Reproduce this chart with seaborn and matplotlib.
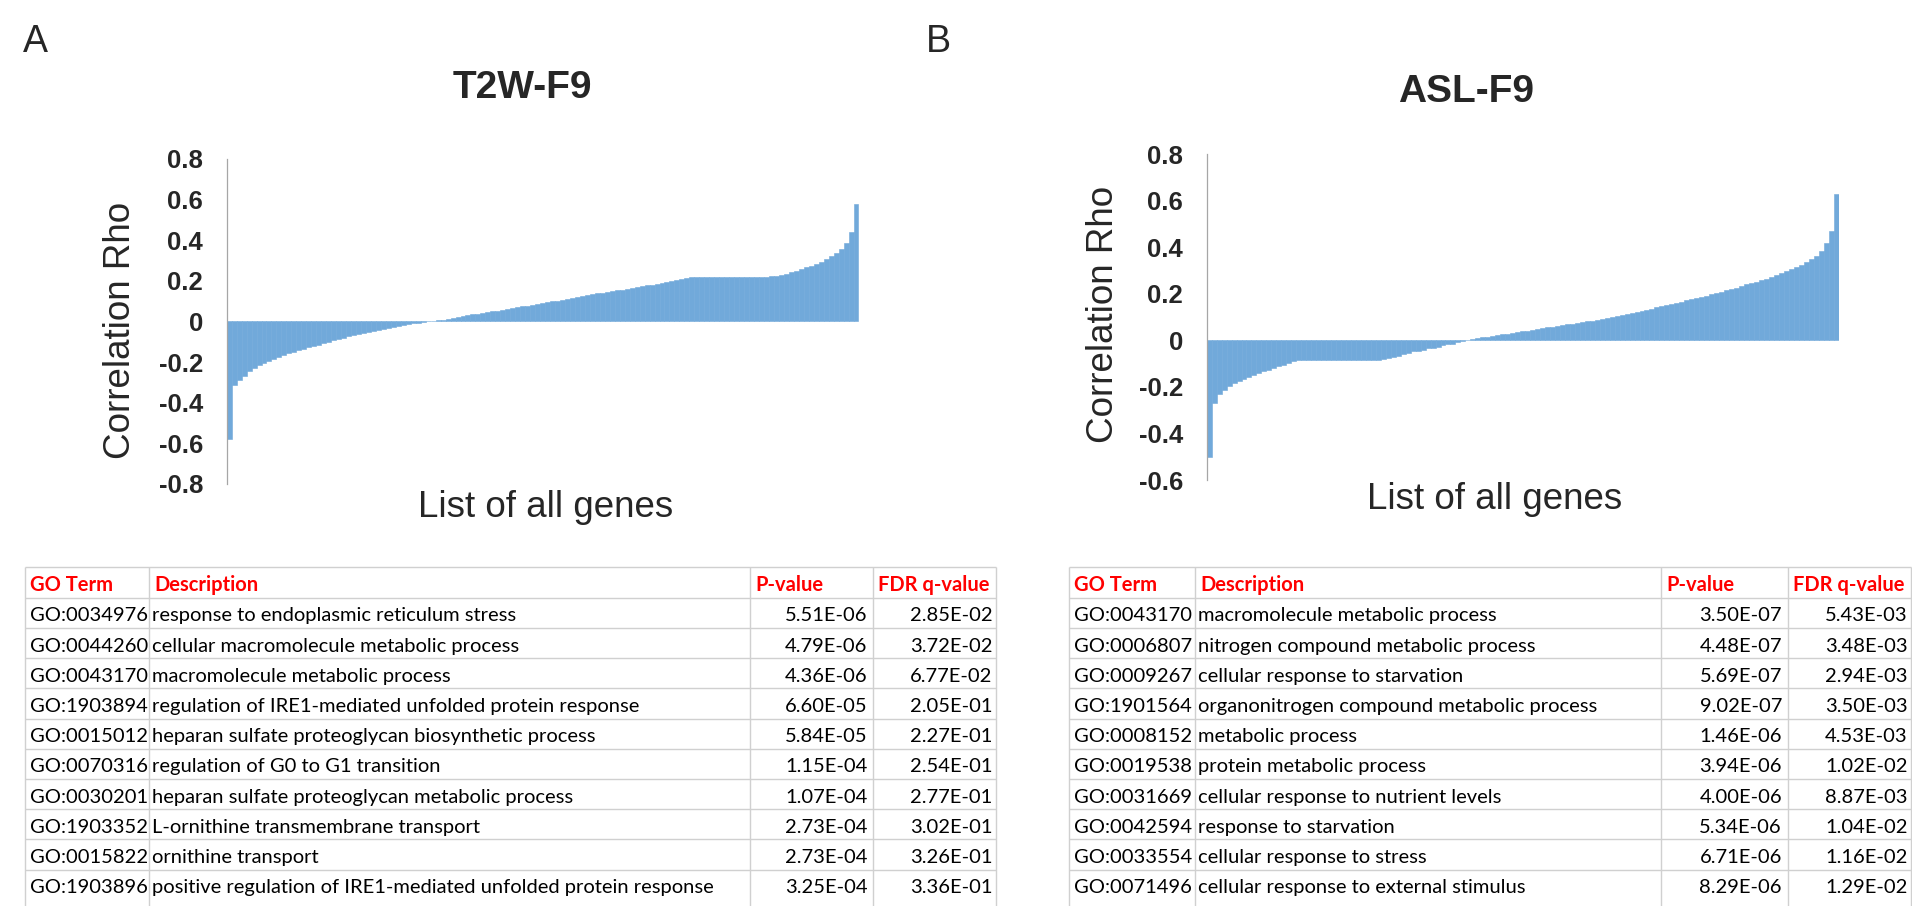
import matplotlib
matplotlib.use('Agg')
import matplotlib.pyplot as plt
import pandas as pd
import seaborn as sns

W, H = 1912, 906

# sorted correlation of every gene with the feature
# (one bar per ~5 px of the original x axis)
t2w_rho = [
    -0.58, -0.315, -0.290, -0.267, -0.246, -0.230, -0.216, -0.204, -0.194, -0.184,
    -0.174, -0.165, -0.157, -0.149, -0.141, -0.133, -0.127, -0.121, -0.114, -0.106,
    -0.099, -0.092, -0.086, -0.079, -0.073, -0.067, -0.061, -0.055, -0.050, -0.045,
    -0.040, -0.035, -0.030, -0.025, -0.020, -0.016, -0.011, -0.008, -0.005, -0.002,
    0.001, 0.003, 0.006, 0.009, 0.012, 0.017, 0.023, 0.027, 0.031, 0.035,
    0.039, 0.043, 0.047, 0.050, 0.054, 0.058, 0.062, 0.066, 0.070, 0.074,
    0.078, 0.082, 0.086, 0.090, 0.095, 0.100, 0.103, 0.107, 0.110, 0.115,
    0.120, 0.125, 0.130, 0.134, 0.138, 0.141, 0.145, 0.149, 0.153, 0.156,
    0.160, 0.165, 0.170, 0.174, 0.178, 0.182, 0.186, 0.190, 0.195, 0.199,
    0.204, 0.208, 0.212, 0.217, 0.218, 0.218, 0.218, 0.218, 0.218, 0.218,
    0.218, 0.218, 0.218, 0.218, 0.218, 0.218, 0.218, 0.218, 0.218, 0.222,
    0.225, 0.230, 0.236, 0.243, 0.250, 0.258, 0.266, 0.275, 0.285, 0.295,
    0.307, 0.320, 0.338, 0.358, 0.385, 0.440, 0.580,
]
asl_rho = [
    -0.50, -0.268, -0.232, -0.213, -0.198, -0.185, -0.174, -0.165, -0.156, -0.147,
    -0.139, -0.133, -0.126, -0.119, -0.111, -0.104, -0.097, -0.090, -0.086, -0.086,
    -0.086, -0.086, -0.086, -0.086, -0.086, -0.086, -0.086, -0.086, -0.086, -0.086,
    -0.086, -0.086, -0.086, -0.086, -0.086, -0.081, -0.077, -0.071, -0.066, -0.061,
    -0.056, -0.048, -0.044, -0.040, -0.035, -0.031, -0.027, -0.022, -0.018, -0.014,
    -0.009, -0.004, 0.001, 0.005, 0.008, 0.012, 0.015, 0.018, 0.021, 0.025,
    0.028, 0.032, 0.035, 0.038, 0.042, 0.045, 0.048, 0.051, 0.055, 0.058,
    0.061, 0.064, 0.068, 0.071, 0.075, 0.078, 0.081, 0.084, 0.088, 0.092,
    0.096, 0.100, 0.104, 0.107, 0.112, 0.116, 0.120, 0.124, 0.131, 0.136,
    0.141, 0.146, 0.151, 0.156, 0.161, 0.166, 0.171, 0.176, 0.181, 0.186,
    0.192, 0.197, 0.202, 0.208, 0.214, 0.220, 0.226, 0.233, 0.240, 0.245,
    0.252, 0.259, 0.265, 0.273, 0.281, 0.290, 0.298, 0.307, 0.316, 0.325,
    0.335, 0.347, 0.362, 0.384, 0.418, 0.470, 0.630,
]

t2w_ticks = [-0.8, -0.6, -0.4, -0.2, 0, 0.2, 0.4, 0.6, 0.8]
t2w_tick_labels = ['-0.8', '-0.6', '-0.4', '-0.2', '0', '0.2', '0.4', '0.6', '0.8']
asl_ticks = [-0.6, -0.4, -0.2, 0, 0.2, 0.4, 0.6, 0.8]
asl_tick_labels = ['-0.6', '-0.4', '-0.2', '0', '0.2', '0.4', '0.6', '0.8']

header = ['GO Term', 'Description', 'P-value', 'FDR q-value']

t2w_go = ['GO:0034976', 'GO:0044260', 'GO:0043170', 'GO:1903894', 'GO:0015012',
          'GO:0070316', 'GO:0030201', 'GO:1903352', 'GO:0015822', 'GO:1903896']
t2w_desc = ['response to endoplasmic reticulum stress',
            'cellular macromolecule metabolic process',
            'macromolecule metabolic process',
            'regulation of IRE1-mediated unfolded protein response',
            'heparan sulfate proteoglycan biosynthetic process',
            'regulation of G0 to G1 transition',
            'heparan sulfate proteoglycan metabolic process',
            'L-ornithine transmembrane transport',
            'ornithine transport',
            'positive regulation of IRE1-mediated unfolded protein response']
t2w_p = ['5.51E-06', '4.79E-06', '4.36E-06', '6.60E-05', '5.84E-05',
         '1.15E-04', '1.07E-04', '2.73E-04', '2.73E-04', '3.25E-04']
t2w_fdr = ['2.85E-02', '3.72E-02', '6.77E-02', '2.05E-01', '2.27E-01',
           '2.54E-01', '2.77E-01', '3.02E-01', '3.26E-01', '3.36E-01']

asl_go = ['GO:0043170', 'GO:0006807', 'GO:0009267', 'GO:1901564', 'GO:0008152',
          'GO:0019538', 'GO:0031669', 'GO:0042594', 'GO:0033554', 'GO:0071496']
asl_desc = ['macromolecule metabolic process',
            'nitrogen compound metabolic process',
            'cellular response to starvation',
            'organonitrogen compound metabolic process',
            'metabolic process',
            'protein metabolic process',
            'cellular response to nutrient levels',
            'response to starvation',
            'cellular response to stress',
            'cellular response to external stimulus']
asl_p = ['3.50E-07', '4.48E-07', '5.69E-07', '9.02E-07', '1.46E-06',
         '3.94E-06', '4.00E-06', '5.34E-06', '6.71E-06', '8.29E-06']
asl_fdr = ['5.43E-03', '3.48E-03', '2.94E-03', '3.50E-03', '4.53E-03',
           '1.02E-02', '8.87E-03', '1.04E-02', '1.16E-02', '1.29E-02']

BAR = '#71A9DA'
GRID = '#D0D0D0'

sns.set_style('white')
plt.rcParams['font.family'] = ['Liberation Sans', 'DejaVu Sans']


def box(x0, y0, x1, y1):
    # pixel box (top-left origin) -> figure fraction rect
    return [x0 / W, 1 - y1 / H, (x1 - x0) / W, (y1 - y0) / H]


def waterfall(ax, rho, ticks, tick_labels):
    df = pd.DataFrame({'gene': range(len(rho)), 'rho': rho})
    sns.barplot(data=df, x='gene', y='rho', color=BAR, saturation=1, width=1.0,
                edgecolor=BAR, linewidth=0.4, ax=ax)
    ax.set_xlim(-0.5, len(rho) - 0.5)
    ax.set_ylim(ticks[0], ticks[-1])
    ax.set_yticks(ticks)
    ax.set_yticklabels(tick_labels, fontsize=18.5, fontweight='bold')
    ax.tick_params(axis='y', length=0, pad=17)
    ax.set_xticks([])
    ax.set_xlabel('')
    ax.set_ylabel('')
    for s in ['top', 'right', 'bottom']:
        ax.spines[s].set_visible(False)
    ax.spines['left'].set_color('#A6A6A6')
    ax.spines['left'].set_linewidth(0.9)


def txt(x, y, s, **kw):
    fig.text(x / W, 1 - y / H, s, **kw)


def table(ax, cols, go, desc, p, fdr):
    top, head, rowh = 566.7, 597.7, 30.2
    lines = [top, head] + [head + rowh * (k + 1) for k in range(len(go) - 1)]
    for y in lines:
        ax.plot([cols[0], cols[-1]], [y, y], color=GRID, lw=1.0, solid_capstyle='butt')
    for x in cols:
        ax.plot([x, x], [top, H], color=GRID, lw=1.0, solid_capstyle='butt')
    hk = dict(fontsize=14.5, fontweight='bold', color='#FF0000', family=['Lato', 'DejaVu Sans'],
              va='baseline')
    for c, s in zip(cols[:4], header):
        ax.text(c + 5, head - 7, s, ha='left', **hk)
    bk = dict(fontsize=14.5, color='black', family=['Lato', 'DejaVu Sans'], va='baseline')
    for k in range(len(go)):
        yb = head + rowh * (k + 1) - 6.5
        ax.text(cols[0] + 5, yb, go[k], ha='left', **bk)
        ax.text(cols[1] + 3, yb, desc[k], ha='left', **bk)
        ax.text(cols[3] - 6, yb, p[k], ha='right', **bk)
        ax.text(cols[4] - 3.5, yb, fdr[k], ha='right', **bk)


fig = plt.figure(figsize=(W / 100, H / 100), dpi=100)

ax1 = fig.add_axes(box(226.7, 159, 858.5, 484))
waterfall(ax1, t2w_rho, t2w_ticks, t2w_tick_labels)
ax2 = fig.add_axes(box(1206.7, 154, 1838.5, 480))
waterfall(ax2, asl_rho, asl_ticks, asl_tick_labels)

# panel letters, titles and axis labels
txt(23, 52, 'A', fontsize=27, va='baseline', ha='left')
txt(926, 52, 'B', fontsize=27, va='baseline', ha='left')
txt(522, 98.5, 'T2W-F9', fontsize=28, fontweight='bold', ha='center', va='baseline')
txt(1466, 101.5, 'ASL-F9', fontsize=28, fontweight='bold', ha='center', va='baseline')
txt(130, 330, 'Correlation Rho', fontsize=26.5, rotation=90, rotation_mode='anchor',
    ha='center', va='baseline')
txt(1113, 314, 'Correlation Rho', fontsize=26.5, rotation=90, rotation_mode='anchor',
    ha='center', va='baseline')
txt(546, 517, 'List of all genes', fontsize=26.5, ha='center', va='baseline')
txt(1495, 509, 'List of all genes', fontsize=26.5, ha='center', va='baseline')

# GO enrichment tables
tab = fig.add_axes([0, 0, 1, 1])
tab.set_xlim(0, W)
tab.set_ylim(H, 0)
tab.axis('off')
tab.patch.set_visible(False)
table(tab, [25, 149.3, 750, 873.3, 996], t2w_go, t2w_desc, t2w_p, t2w_fdr)
table(tab, [1069.3, 1195, 1661, 1788, 1911], asl_go, asl_desc, asl_p, asl_fdr)

fig.savefig('out.png', dpi=100)
